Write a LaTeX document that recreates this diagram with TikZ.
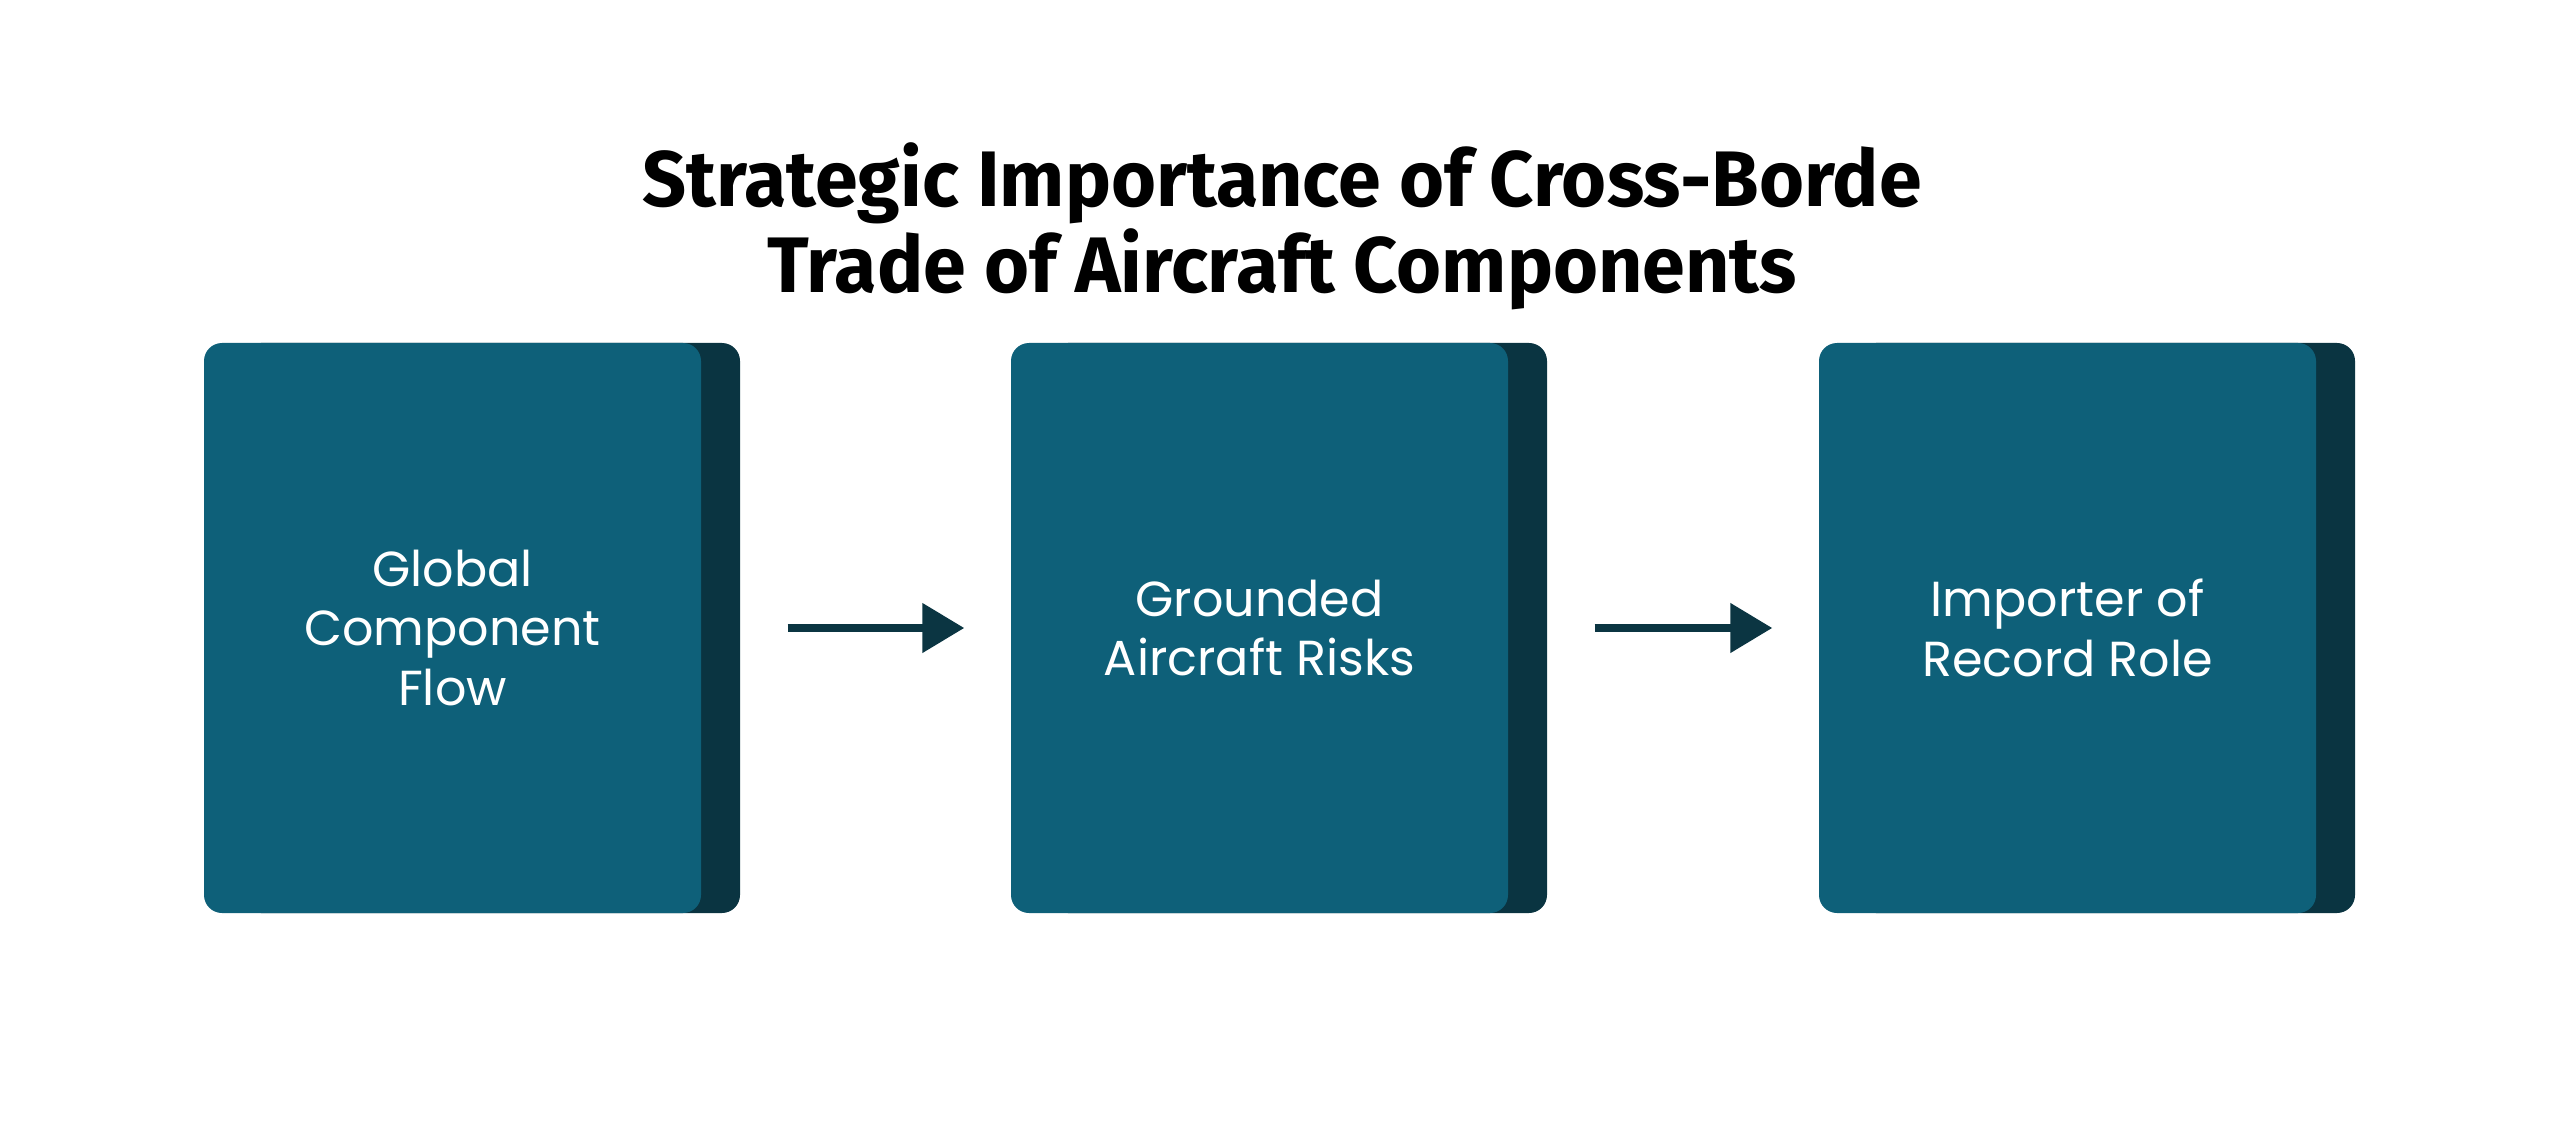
\documentclass[tikz,border=0pt]{standalone}
\usepackage{fontspec}
\setmainfont{Poppins}
\newfontfamily\titlefont[FakeStretch=0.98]{Fira Sans}
\usetikzlibrary{arrows.meta,positioning}

\definecolor{boxteal}{HTML}{0E6079}
\definecolor{boxshade}{HTML}{0A3441}
\definecolor{arrowink}{HTML}{0B3542}

\tikzset{
  stepback/.style={fill=boxshade, rounded corners=0.18cm, minimum width=4.97cm,
    minimum height=5.70cm, inner sep=0pt},
  stepfront/.style={fill=boxteal, rounded corners=0.18cm, minimum width=4.97cm,
    minimum height=5.70cm, inner sep=0pt, text=white, align=center,
    font=\fontsize{14}{17}\selectfont},
  flowarrow/.style={draw=arrowink, line width=0.08cm,
    -{Triangle[length=0.42cm,width=0.48cm]}}
}

\begin{document}
\begin{tikzpicture}
	\useasboundingbox (0,0) rectangle (25.6,11.22);

	% title
	\node[align=center, font=\titlefont\bfseries\fontsize{22.4}{24.5}\selectfont] (title) at (12.82,8.96)
		{Strategic Importance of Cross-Borde\\Trade of Aircraft Components};

	% shaded backs
	\node[stepback] (back1) at (4.915,4.94) {};
	\node[stepback] (back2) at (12.985,4.94) {};
	\node[stepback] (back3) at (21.065,4.94) {};

	% front boxes
	\node[stepfront] (box1) at ([xshift=-0.39cm]back1.center) {Global\\Component\\Flow};
	\node[stepfront] (box2) at ([xshift=-0.39cm]back2.center) {Grounded\\Aircraft Risks};
	\node[stepfront] (box3) at ([xshift=-0.39cm]back3.center) {Importer of\\Record Role};

	% arrows
	\draw[flowarrow] ([xshift=0.47cm]back1.east) -- ([xshift=-0.46cm]box2.west);
	\draw[flowarrow] ([xshift=0.47cm]back2.east) -- ([xshift=-0.46cm]box3.west);

\end{tikzpicture}
\end{document}
